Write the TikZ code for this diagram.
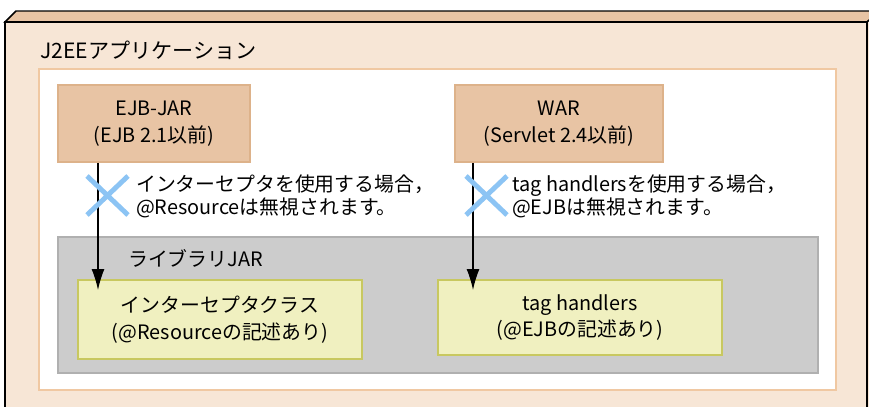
\documentclass[tikz,border=0pt]{standalone}
\usepackage{fontspec}
\setmainfont{Noto Sans CJK JP}
\usetikzlibrary{arrows.meta}
\definecolor{facelight}{HTML}{F7E6D6}
\definecolor{facedark}{HTML}{E8C4A4}
\definecolor{jarline}{HTML}{DDB28A}
\definecolor{frameline}{HTML}{F0C8A2}
\definecolor{libfill}{HTML}{CCCCCC}
\definecolor{libline}{HTML}{B0B0B0}
\definecolor{clsfill}{HTML}{F0F0C0}
\definecolor{clsline}{HTML}{C8C860}
\definecolor{crossblue}{HTML}{8CC4F4}
\begin{document}
\begin{tikzpicture}[x=0.02cm,y=-0.02cm,
  txt/.style={font=\fontsize{11.3}{13}\selectfont},
  jarbox/.style={draw=jarline,line width=1pt,fill=facedark,align=center,
    font=\fontsize{11.3}{15}\selectfont,minimum height=1.54cm},
  clsbox/.style={draw=clsline,line width=1pt,fill=clsfill,align=center,
    font=\fontsize{11.3}{15.3}\selectfont},
  arr/.style={-{Latex[length=4.2mm,width=2.6mm]},line width=0.7pt},
  cross/.style={crossblue,line width=2.8pt}]
  \useasboundingbox (0,0) rectangle (869,406);
  \clip (0,0) rectangle (869,406);
  % outer box
  \fill[facelight] (5,22) rectangle (867,420);
  \draw[fill=facedark,line width=0.85pt] (5,22) -- (16,11) -- (880,11) -- (867,22) -- cycle;
  \draw[fill=facelight,line width=0.85pt] (867,22) -- (880,11) -- (880,420) -- (867,420) -- cycle;
  \draw[line width=0.85pt] (5,420) -- (5,22) -- (867,22) -- (867,420);
  \node[txt,font=\fontsize{12}{14}\selectfont,anchor=west] (app) at (34,50) {J2EEアプリケーション};
  \draw[frameline,fill=white,line width=1.1pt] (39,69) rectangle (836,390);
  % jar files
  \node[jarbox,minimum width=3.84cm] (ejb) at (154,123.5) {EJB-JAR\\(EJB 2.1以前)};
  \node[jarbox,minimum width=4.16cm] (war) at (559,123.5) {WAR\\(Servlet 2.4以前)};
  % library jar
  \node[draw=libline,line width=1pt,fill=libfill,minimum width=15.2cm,minimum height=2.72cm] (lib) at (438,305) {};
  \node[txt,anchor=west] (libname) at (122,258) {ライブラリJAR};
  \node[clsbox,minimum width=5.68cm,minimum height=1.58cm] (icls) at (220,319.5) {インターセプタクラス\\(@Resourceの記述あり)};
  \node[clsbox,minimum width=5.68cm,minimum height=1.5cm] (tags) at (580,317.5) {tag handlers\\(@EJBの記述あり)};
  % references
  \coordinate (t1) at (98,290);
  \coordinate (t2) at (473,290);
  \draw[arr] (ejb.south -| t1) -- (t1);
  \draw[arr] (war.south -| t2) -- (t2);
  \draw[cross] (87,176) -- (128,215) (87,215) -- (128,176);
  \draw[cross] (466,176) -- (507,215) (466,215) -- (507,176);
  \node[txt,anchor=west,align=left] (note1) at (130,196.5) {インターセプタを使用する場合，\\@Resourceは無視されます。};
  \node[txt,anchor=west,align=left] (note2) at (506,196.5) {tag handlersを使用する場合，\\@EJBは無視されます。};
\end{tikzpicture}
\end{document}
